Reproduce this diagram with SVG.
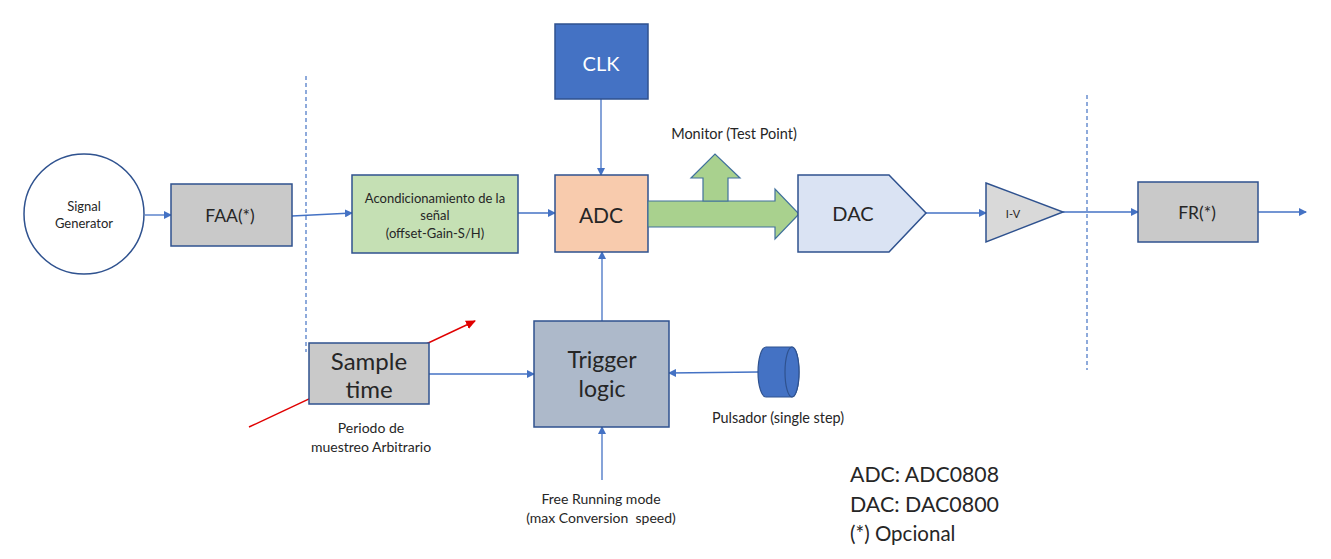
<svg xmlns="http://www.w3.org/2000/svg" width="1331" height="559" viewBox="0 0 1331 559">
<defs>
<marker id="ah" markerWidth="8" markerHeight="8" refX="7" refY="4" orient="auto" markerUnits="userSpaceOnUse">
<path d="M0,0 L8,4 L0,8 Z" fill="#4472C4"/>
</marker>
<marker id="ahr" markerWidth="10" markerHeight="9" refX="9" refY="4.5" orient="auto" markerUnits="userSpaceOnUse">
<path d="M0,0 L10,4.5 L0,9 Z" fill="#E00000"/>
</marker>
</defs>
<style>
.box{stroke:#2F528F;stroke-width:1.5}
.t{font-family:Lato,"Open Sans","Liberation Sans",sans-serif;fill:#262626;text-anchor:middle;dominant-baseline:central}
.s{font-size:14px}
.m{font-size:20px}
.l{font-size:24px}
.g{font-family:Lato,"Open Sans","Liberation Sans",sans-serif;font-size:20.5px;fill:#262626;dominant-baseline:central}
.c{stroke:#4472C4;stroke-width:1.3;fill:none}
.d{stroke:#4472C4;stroke-width:1.2;stroke-dasharray:4,3;fill:none}
</style>
<rect width="1331" height="559" fill="#FFFFFF"/>

<g id="connectors">
<line class="c" x1="145" y1="215" x2="171" y2="215" marker-end="url(#ah)"/>
<line class="c" x1="292" y1="216" x2="352" y2="213" marker-end="url(#ah)"/>
<line class="c" x1="518" y1="213" x2="555" y2="213" marker-end="url(#ah)"/>
<line class="c" x1="601" y1="99" x2="601" y2="175" marker-end="url(#ah)"/>
<line class="c" x1="602" y1="321" x2="602" y2="252" marker-end="url(#ah)"/>
<line class="c" x1="926" y1="213" x2="986" y2="213" marker-end="url(#ah)"/>
<line class="c" x1="1063" y1="212" x2="1138" y2="212" marker-end="url(#ah)"/>
<line class="c" x1="1258" y1="212" x2="1306" y2="212" marker-end="url(#ah)"/>
<line class="c" x1="429" y1="374" x2="534" y2="374" marker-end="url(#ah)"/>
<line class="c" x1="758" y1="372" x2="669" y2="373" marker-end="url(#ah)"/>
<line class="c" x1="602" y1="480" x2="602" y2="427" marker-end="url(#ah)"/>
<line stroke="#E00000" stroke-width="1.4" x1="249" y1="427" x2="475" y2="321" marker-end="url(#ahr)"/>
<line class="d" x1="306" y1="76" x2="306" y2="352"/>
<line class="d" x1="1087" y1="95" x2="1087" y2="370"/>
</g>

<g id="signal-generator">
<circle cx="84" cy="214" r="60" fill="#FFFFFF" stroke="#2F528F" stroke-width="1.5"/>
<text class="t" style="font-size:13px" x="84" y="206">Signal</text>
<text class="t" style="font-size:13px" x="84" y="223">Generator</text>
</g>

<g id="faa">
<rect class="box" x="171" y="184" width="121" height="62" fill="#C9C9C9"/>
<text class="t" style="font-size:17.5px" x="230" y="215">FAA(*)</text>
</g>

<g id="acondicionamiento">
<rect class="box" x="352" y="175" width="166" height="78" fill="#C5E0B4"/>
<text class="t" style="font-size:13px" x="435" y="198">Acondicionamiento de la</text>
<text class="t" style="font-size:13px" x="435" y="215">señal</text>
<text class="t" style="font-size:13px" x="435" y="233">(offset-Gain-S/H)</text>
</g>

<g id="clk">
<rect class="box" x="555" y="24" width="93" height="75" fill="#4472C4"/>
<text class="t m" x="601" y="63" style="fill:#FFFFFF">CLK</text>
</g>

<g id="adc">
<rect class="box" x="555" y="175" width="93" height="77" fill="#F8CBAD"/>
<text class="t" style="font-size:21px" x="601" y="214">ADC</text>
</g>

<g id="bus">
<polygon points="648,201 775,201 775,189 799,214 775,239 775,227 648,227" fill="#A9D18E" stroke="#41719C" stroke-width="1.2"/>
</g>

<g id="monitor">
<polygon points="703,201 703,178 691,178 715,154 740,178 728,178 728,201" fill="#A9D18E" stroke="#41719C" stroke-width="1.2"/>
<text class="t" style="font-size:14.5px" x="734" y="133">Monitor (Test Point)</text>
</g>

<g id="dac">
<polygon class="box" points="798,175 889,175 926,213 889,252 798,252" fill="#DAE3F3"/>
<text class="t m" x="853" y="213">DAC</text>
</g>

<g id="iv">
<polygon class="box" points="986,183 1063,212 986,242" fill="#D9D9D9"/>
<text class="t" style="font-size:11px" x="1013" y="213">I-V</text>
</g>

<g id="fr">
<rect class="box" x="1138" y="182" width="120" height="60" fill="#C9C9C9"/>
<text class="t" style="font-size:17.5px" x="1197" y="212">FR(*)</text>
</g>

<g id="sample-time">
<rect class="box" x="309" y="343" width="120" height="61" fill="#C9C9C9"/>
<text class="t l" x="369" y="360">Sample</text>
<text class="t l" x="369" y="388">time</text>
<text class="t s" x="371" y="427">Periodo de</text>
<text class="t s" x="371" y="446">muestreo Arbitrario</text>
</g>

<g id="trigger-logic">
<rect class="box" x="534" y="321" width="135" height="106" fill="#ADB9CA"/>
<text class="t" style="font-size:23px" x="602" y="359">Trigger</text>
<text class="t" style="font-size:23px" x="602" y="388">logic</text>
</g>

<g id="pulsador">
<path d="M766,347 L792,347 A7,25 0 0 1 792,397 L766,397 A8,25 0 0 1 766,347 Z" fill="#4472C4" stroke="#2F528F" stroke-width="1.2"/>
<ellipse cx="792" cy="372" rx="7" ry="25" fill="#4472C4" stroke="#2F528F" stroke-width="1.2"/>
<text class="t" style="font-size:14.4px" x="778" y="417">Pulsador (single step)</text>
</g>

<g id="free-running">
<text class="t s" x="601" y="498">Free Running mode</text>
<text class="t s" x="601" y="517" xml:space="preserve">(max Conversion  speed)</text>
</g>

<g id="legend">
<text class="g" x="850" y="474" textLength="149" lengthAdjust="spacingAndGlyphs">ADC: ADC0808</text>
<text class="g" x="850" y="504" textLength="149" lengthAdjust="spacingAndGlyphs">DAC: DAC0800</text>
<text class="g" x="850" y="533">(*) Opcional</text>
</g>
</svg>
